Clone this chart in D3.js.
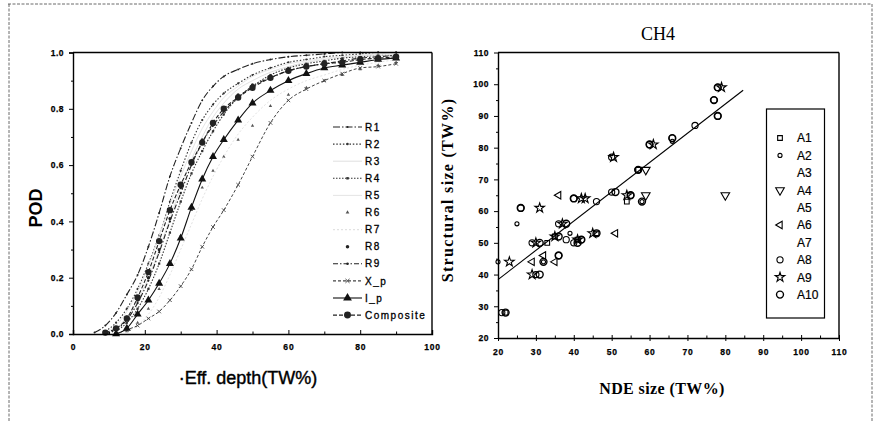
<!DOCTYPE html>
<html><head><meta charset="utf-8">
<script src="https://cdn.jsdelivr.net/npm/d3@7"></script>
<style>
html,body{margin:0;padding:0;background:#fff;}
svg{display:block;}
</style></head>
<body>
<svg id="c" width="878" height="422"></svg>
<script>
// ---------------- DATA: left chart (POD curves) ----------------
const depthGrid = [6,9,12,15,18,21,24,27,30,33,36,39,42,46,50,55,60,65,70,75,80,85,90];
const podR1 = [0.005,0.03,0.075,0.14,0.21,0.31,0.43,0.56,0.66,0.75,0.83,0.88,0.915,0.94,0.96,0.975,0.985,0.99,0.995,1.0,1.0,1.0,1.0];
const podR2 = [null,0.01,0.04,0.09,0.16,0.25,0.35,0.47,0.58,0.68,0.76,0.815,0.855,0.89,0.92,0.945,0.965,0.975,0.985,0.99,0.995,1.0,1.0];
const podR3 = [null,null,0.02,0.06,0.12,0.2,0.3,0.41,0.52,0.62,0.7,0.77,0.82,0.87,0.9,0.93,0.95,0.965,0.975,0.985,0.99,0.995,1.0];
const podR4 = [null,null,0.01,0.04,0.09,0.16,0.25,0.36,0.47,0.57,0.65,0.72,0.78,0.84,0.88,0.92,0.945,0.96,0.97,0.98,0.985,0.99,0.99];
const podR5 = [null,0.005,0.03,0.08,0.15,0.24,0.35,0.46,0.56,0.65,0.73,0.79,0.84,0.88,0.915,0.94,0.96,0.97,0.98,0.985,0.99,0.99,0.995];
const podR6 = [null,null,null,0.01,0.04,0.09,0.16,0.25,0.35,0.44,0.52,0.58,0.63,0.69,0.74,0.81,0.85,0.875,0.9,0.92,0.94,0.955,0.965];
const podR7 = [null,null,null,0.01,0.03,0.07,0.13,0.21,0.3,0.39,0.48,0.56,0.63,0.71,0.77,0.83,0.87,0.9,0.92,0.94,0.955,0.965,0.975];
const podR8 = [null,0.005,0.02,0.06,0.12,0.2,0.3,0.41,0.52,0.61,0.69,0.75,0.8,0.85,0.885,0.915,0.94,0.955,0.965,0.975,0.98,0.985,0.99];
const podR9 = [null,0.0,0.015,0.05,0.11,0.19,0.29,0.4,0.5,0.6,0.68,0.74,0.79,0.84,0.88,0.91,0.935,0.95,0.96,0.97,0.98,0.985,0.99];
const podXp = [null,null,0.0,0.015,0.03,0.055,0.08,0.12,0.17,0.23,0.31,0.38,0.44,0.53,0.63,0.75,0.83,0.87,0.9,0.925,0.945,0.95,0.96];
const podIp = [null,null,0.0,0.02,0.07,0.12,0.18,0.25,0.34,0.45,0.55,0.63,0.69,0.76,0.82,0.865,0.9,0.925,0.945,0.955,0.965,0.975,0.98];
const podComp = [null,0.005,0.02,0.055,0.13,0.22,0.33,0.44,0.53,0.61,0.68,0.75,0.80,0.84,0.875,0.91,0.935,0.95,0.96,0.965,0.975,0.98,0.985];
const leftSeriesNames = ["R1","R2","R3","R4","R5","R6","R7","R8","R9","X_p","I_p","Composite"];
const leftXTicks = [0,20,40,60,80,100];
const leftYTicks = [0,0.2,0.4,0.6,0.8,1.0];

// ---------------- DATA: right chart (CH4 scatter) ----------------
const a1x = [57,54,41,33,35,46,22];
const a1y = [73,63,51,50,52,53,28];
const a2x = [25,39,32,20,66,58];
const a2y = [56,53,44,44,82,63];
const a3x = [];
const a3y = [];
const a4x = [59,59,80];
const a4y = [73,65,65];
const a5x = [];
const a5y = [];
const a6x = [51,29,35,32,36];
const a6y = [53,44,44,46,65];
const a7x = [];
const a7y = [];
const a8x = [78,72,66,60,57,50,46,40,26,36,38,40,29,36,30,21,55,77,78,50,42];
const a8y = [90,87,83,81,73,66,63,64,61,56,51,50,50,46,40,28,65,95,99,77,51];
const a9x = [79,61,50.5,42,43,31,37,45,41,30,23,29,54,35];
const a9y = [99,81,77,64,64,61,56,53,51,50,44,40,65,52];
const a10x = [78,77,78,66,60,57,51,40,26,38,46,42,41,31,36,31,22,58,55,32,36];
const a10y = [99,95,90,83,81,73,66,64,61,56,53,51,50,50,46,40,28,63,65,44,52];
const rightSeriesNames = ["A1","A2","A3","A4","A5","A6","A7","A8","A9","A10"];
const fitX = [20,84.7];
const fitY = [38.4,98.1];
const rightXTicks = [20,30,40,50,60,70,80,90,100,110];
const rightYTicks = [20,30,40,50,60,70,80,90,100,110];

// ---------------- DRAW ----------------
const svg = d3.select("#c");
const ink = "#000";
const sans = "'Liberation Sans',Arial,sans-serif";
const serif = "'Liberation Serif','Times New Roman',serif";

// outer dashed frame
const frame = svg.append("g").attr("fill","none").attr("stroke","#444").attr("stroke-width",0.8).attr("stroke-dasharray","3,1.5");
frame.append("line").attr("x1",8).attr("y1",4).attr("x2",872).attr("y2",4);
frame.append("line").attr("x1",9).attr("y1",4).attr("x2",9).attr("y2",422);
frame.append("line").attr("x1",872).attr("y1",4).attr("x2",872).attr("y2",422);

// ===== LEFT CHART =====
const xL = d3.scaleLinear().domain([0,100]).range([73,432]);
const yL = d3.scaleLinear().domain([0,1]).range([334,52.5]);
const gL = svg.append("g");

const leftPods = [podR1,podR2,podR3,podR4,podR5,podR6,podR7,podR8,podR9,podXp,podIp,podComp];
const leftStyles = [
  {stroke:"#222", dash:"7,2,1.5,2", w:1.1, sym:d3.symbolCircle, size:3, fill:"#222", line:true},
  {stroke:"#333", dash:"1.5,1.8", w:1.1, sym:d3.symbolCircle, size:4, fill:"#333", line:true},
  {stroke:"#e2e2e2", dash:null, w:1, sym:null, line:true},
  {stroke:"#333", dash:"1.5,1.5", w:1.1, sym:d3.symbolSquare, size:5, fill:"#333", line:true},
  {stroke:"#e6e6e6", dash:null, w:1, sym:null, line:true},
  {stroke:"#555", dash:null, w:1, sym:d3.symbolTriangle, size:5, fill:"#555", line:false},
  {stroke:"#e2e2e2", dash:"2,2", w:1, sym:null, line:true},
  {stroke:"#222", dash:null, w:1, sym:d3.symbolCircle, size:8, fill:"#222", line:false},
  {stroke:"#222", dash:"5,2,1.5,2", w:1.1, sym:d3.symbolCircle, size:4, fill:"#222", line:true},
  {stroke:"#444", dash:"3,2", w:1, sym:d3.symbolTimes, size:10, fill:"none", line:true},
  {stroke:"#111", dash:null, w:1.1, sym:d3.symbolTriangle, size:28, fill:"#111", line:true},
  {stroke:"#222", dash:"4,2", w:1.1, sym:d3.symbolCircle, size:32, fill:"#222", line:true}
];

const lineL = d3.line().defined(d=>d[1]!==null).x(d=>xL(d[0])).y(d=>yL(d[1])).curve(d3.curveMonotoneX);

leftPods.forEach((pods,i)=>{
  const st = leftStyles[i];
  const pts = depthGrid.map((x,k)=>[x,pods[k]]);
  if(st.line){
    gL.append("path").datum(pts).attr("d",lineL).attr("fill","none")
      .attr("stroke",st.stroke).attr("stroke-width",st.w).attr("stroke-dasharray",st.dash);
  }
  if(st.sym){
    const sym = d3.symbol().type(st.sym).size(st.size);
    gL.append("g").selectAll("path").data(pts.filter(d=>d[1]!==null)).join("path")
      .attr("d",sym).attr("transform",d=>`translate(${xL(d[0])},${yL(d[1])})`)
      .attr("fill",st.fill).attr("stroke",st.fill==="none"?st.stroke:"none").attr("stroke-width",0.9);
  }
});

function styleTickText(g, ls){
  g.selectAll("text").attr("font-family",sans).attr("font-size",8.5).attr("font-weight","bold")
   .attr("letter-spacing",ls).attr("fill",ink).attr("stroke",ink).attr("stroke-width",0.25);
}

// axes left
const axL = gL.append("g");
axL.append("g").attr("transform","translate(0,334)")
  .call(d3.axisBottom(xL).tickValues(leftXTicks).tickFormat(d3.format("d")).tickSize(-4).tickPadding(10))
  .call(g=>{g.select(".domain").attr("stroke",ink).attr("stroke-width",1.4);g.selectAll("line").attr("stroke",ink);styleTickText(g,0.8);});
axL.append("g").attr("transform","translate(0,334)")
  .call(d3.axisBottom(xL).tickValues([10,30,50,70,90]).tickFormat("").tickSize(-2.5))
  .call(g=>{g.select(".domain").remove();g.selectAll("line").attr("stroke",ink);});
axL.append("g").attr("transform","translate(73,0)")
  .call(d3.axisLeft(yL).tickValues(leftYTicks).tickFormat(d3.format(".1f")).tickSize(4).tickPadding(5))
  .call(g=>{g.select(".domain").attr("stroke",ink).attr("stroke-width",1.4);g.selectAll("line").attr("stroke",ink);styleTickText(g,0.5);});
axL.append("g").attr("transform","translate(73,0)")
  .call(d3.axisLeft(yL).tickValues([0.1,0.3,0.5,0.7,0.9]).tickFormat("").tickSize(2))
  .call(g=>{g.select(".domain").remove();g.selectAll("line").attr("stroke",ink);});
// top & right frame
gL.append("line").attr("x1",xL(0)).attr("x2",xL(100)).attr("y1",yL(1)).attr("y2",yL(1)).attr("stroke",ink).attr("stroke-width",1.4);
gL.append("line").attr("x1",xL(100)).attr("x2",xL(100)).attr("y1",yL(1)).attr("y2",yL(0)).attr("stroke",ink).attr("stroke-width",1.4);

// labels left
gL.append("text").attr("transform","translate(42,208) rotate(-90)").attr("text-anchor","middle")
  .attr("font-family",sans).attr("font-weight","bold").attr("font-size",18).attr("fill",ink).text("POD");
gL.append("text").attr("x",248).attr("y",384).attr("text-anchor","middle")
  .attr("font-family",sans).attr("font-size",18).attr("fill",ink).attr("stroke",ink).attr("stroke-width",0.4).text("·Eff. depth(TW%)");

// legend left
const legL = gL.append("g");
leftSeriesNames.forEach((name,i)=>{
  const st = leftStyles[i];
  const y = 127 + i*17.1;
  if(st.line){
    legL.append("line").attr("x1",333).attr("x2",362).attr("y1",y).attr("y2",y)
      .attr("stroke",st.stroke).attr("stroke-width",1.1).attr("stroke-dasharray",st.dash);
  }
  if(st.sym && st.stroke!=="#e2e2e2"){
    legL.append("path").attr("d",d3.symbol().type(st.sym).size(st.size*1.2)).attr("transform",`translate(347.5,${y})`)
      .attr("fill",st.fill).attr("stroke",st.fill==="none"?st.stroke:"none");
  }
  legL.append("text").attr("x",365).attr("y",y+3.6).attr("font-family",sans)
    .attr("font-size",10).attr("letter-spacing",1.5).attr("fill",ink).attr("stroke",ink).attr("stroke-width",0.3).text(name);
});

// ===== RIGHT CHART =====
const xR = d3.scaleLinear().domain([20,110]).range([498,839]);
const yR = d3.scaleLinear().domain([20,110]).range([338,52.5]);
const gR = svg.append("g");

// fit line
gR.append("path").datum(fitX.map((x,i)=>[x,fitY[i]]))
  .attr("d",d3.line().x(d=>xR(d[0])).y(d=>yR(d[1]))).attr("stroke",ink).attr("stroke-width",1.1).attr("fill","none");

const rightX = [a1x,a2x,a3x,a4x,a5x,a6x,a7x,a8x,a9x,a10x];
const rightY = [a1y,a2y,a3y,a4y,a5y,a6y,a7y,a8y,a9y,a10y];
const rightSyms = [
  {type:d3.symbolSquare,size:22,rot:0},
  {type:d3.symbolCircle,size:13,rot:0},
  null,
  {type:d3.symbolTriangle,size:32,rot:180},
  null,
  {type:d3.symbolTriangle,size:24,rot:-90},
  null,
  {type:d3.symbolCircle,size:30,rot:0},
  {type:d3.symbolStar,size:28,rot:0},
  {type:d3.symbolCircle,size:38,rot:0}
];
rightX.forEach((xs,i)=>{
  const s = rightSyms[i];
  if(!s) return;
  const pts = xs.map((x,k)=>[x,rightY[i][k]]);
  gR.append("g").selectAll("path").data(pts).join("path")
    .attr("d",d3.symbol().type(s.type).size(s.size))
    .attr("transform",d=>`translate(${xR(d[0])},${yR(d[1])}) rotate(${s.rot})`)
    .attr("fill","none").attr("stroke",ink).attr("stroke-width",i===9?1.4:1.1);
});

// axes right
const axR = gR.append("g");
axR.append("g").attr("transform","translate(0,338)")
  .call(d3.axisBottom(xR).tickValues(rightXTicks).tickFormat(d3.format("d")).tickSizeInner(3).tickSizeOuter(0).tickPadding(8))
  .call(g=>{g.select(".domain").attr("stroke",ink).attr("stroke-width",1.4);g.selectAll("line").attr("stroke",ink).attr("y1",-3);styleTickText(g,0.8);});
axR.append("g").attr("transform","translate(0,338)")
  .call(d3.axisBottom(xR).tickValues([25,35,45,55,65,75,85,95,105]).tickFormat("").tickSize(-2.5))
  .call(g=>{g.select(".domain").remove();g.selectAll("line").attr("stroke",ink);});
axR.append("g").attr("transform","translate(498,0)")
  .call(d3.axisLeft(yR).tickValues(rightYTicks).tickFormat(d3.format("d")).tickSizeInner(4).tickSizeOuter(0).tickPadding(5))
  .call(g=>{g.select(".domain").attr("stroke",ink).attr("stroke-width",1.4);g.selectAll("line").attr("stroke",ink);styleTickText(g,0.5);});
axR.append("g").attr("transform","translate(498,0)")
  .call(d3.axisLeft(yR).tickValues([25,35,45,55,65,75,85,95,105]).tickFormat("").tickSize(2))
  .call(g=>{g.select(".domain").remove();g.selectAll("line").attr("stroke",ink);});
gR.append("line").attr("x1",xR(20)).attr("x2",xR(110)).attr("y1",yR(110)).attr("y2",yR(110)).attr("stroke",ink).attr("stroke-width",1.4);
gR.append("line").attr("x1",xR(110)).attr("x2",xR(110)).attr("y1",yR(110)).attr("y2",yR(20)).attr("stroke",ink).attr("stroke-width",1.4);

// title & labels right
gR.append("text").attr("x",658).attr("y",40).attr("text-anchor","middle")
  .attr("font-family",serif).attr("font-size",18).attr("fill",ink).text("CH4");
gR.append("text").attr("x",662).attr("y",394).attr("text-anchor","middle")
  .attr("font-family",serif).attr("font-weight","bold").attr("font-size",16).attr("letter-spacing",0.4).attr("fill",ink).text("NDE size (TW%)");
gR.append("text").attr("transform","translate(453,190) rotate(-90)").attr("text-anchor","middle")
  .attr("font-family",serif).attr("font-weight","bold").attr("font-size",16).attr("letter-spacing",1.3).attr("fill",ink).text("Structural size (TW%)");

// legend right
gR.append("rect").attr("x",766.5).attr("y",109).attr("width",58).attr("height",209).attr("fill","#fff").attr("stroke",ink).attr("stroke-width",1.2);
rightSeriesNames.forEach((name,i)=>{
  const y = 138 + i*17.4;
  const s = rightSyms[i];
  if(s){
    gR.append("path").attr("d",d3.symbol().type(s.type).size(s.size)).attr("transform",`translate(780,${y}) rotate(${s.rot})`)
      .attr("fill","none").attr("stroke",ink).attr("stroke-width",i===9?1.4:1.1);
  }
  gR.append("text").attr("x",797).attr("y",y+4.3).attr("font-family",sans)
    .attr("font-size",12).attr("fill",ink).attr("stroke",ink).attr("stroke-width",0.2).text(name);
});
</script>
</body></html>
